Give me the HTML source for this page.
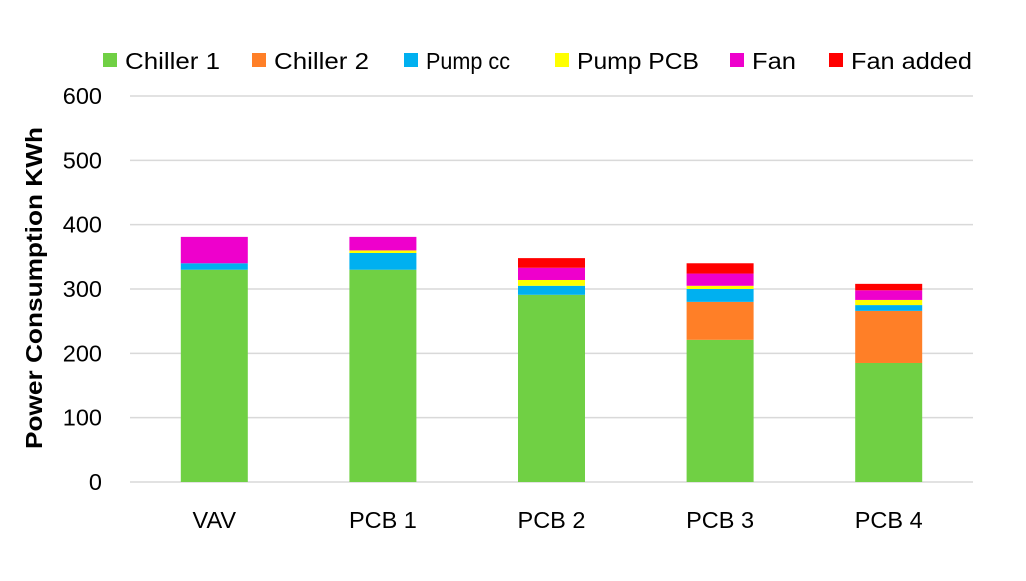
<!DOCTYPE html>
<html><head><meta charset="utf-8"><style>
body{margin:0;background:#fff;font-family:"Liberation Sans",Arial,sans-serif}
</style></head><body>
<svg width="1026" height="576" xmlns="http://www.w3.org/2000/svg" font-family="Liberation Sans, Arial, sans-serif">
<g id="grid"></g><g id="bars"></g><g id="axes"></g><g id="legend"></g>
<text transform="translate(42,288) rotate(-90)" text-anchor="middle" font-size="23" font-weight="bold" fill="#000" textLength="322" lengthAdjust="spacingAndGlyphs">Power Consumption KWh</text>
</svg>
<script>
const categories=["VAV","PCB 1","PCB 2","PCB 3","PCB 4"];
const seriesNames=["Chiller 1","Chiller 2","Pump cc","Pump PCB","Fan","Fan added"];
const chiller1=[330,330,291,221,185];
const chiller2=[0,0,0,59,81];
const pumpCC=[10,26,14,20,9];
const pumpPCB=[0,4,9,5,8];
const fan=[41,21,19,19,15];
const fanAdded=[0,0,15,16,10];
const yTicks=[0,100,200,300,400,500,600];
const colors=["#70d044","#ff7f27","#00b0f0","#ffff00","#ee00cc","#ff0000"];
const series=[chiller1,chiller2,pumpCC,pumpPCB,fan,fanAdded];
const NS="http://www.w3.org/2000/svg";
const L=130,R=973,T=96,B=482,yMax=600;
const y=v=>B-(v/yMax)*(B-T);
const band=(R-L)/categories.length;
const xc=i=>L+band*(i+0.5);
const bw=67;
function mk(t,a,p){const e=document.createElementNS(NS,t);for(const k in a)e.setAttribute(k,a[k]);p.appendChild(e);return e;}
const grid=document.getElementById('grid'),axes=document.getElementById('axes'),bars=document.getElementById('bars'),leg=document.getElementById('legend');
yTicks.forEach(t=>{
 const l=mk('line',{x1:L,x2:R,y1:y(t),y2:y(t),stroke:'#d9d9d9','stroke-width':1.5},grid);
 
 
 const tx=mk('text',{x:102,y:y(t)+8,'text-anchor':'end','font-size':23.5,fill:'#000'},axes);
 tx.textContent=t;
 
 
});
categories.forEach((c,i)=>{
 let acc=0;
 series.forEach((s,j)=>{
  const v=s[i];if(v<=0)return;
  const r=mk('rect',{x:xc(i)-bw/2,y:y(acc+v),width:bw,height:y(acc)-y(acc+v),fill:colors[j]},bars);
  
  
  acc+=v;
 });
 const tx=mk('text',{x:xc(i),y:528,'text-anchor':'middle','font-size':23.5,fill:'#000'},axes);
 tx.textContent=c;
 
 
});
const lx=[103,252,404,555,730,829];
const lw=[95,95,84,122,44,121];
seriesNames.forEach((n,j)=>{
 const r=mk('rect',{x:lx[j],y:53,width:14,height:14,fill:colors[j]},leg);
 
 
 const t=mk('text',{x:lx[j]+22,y:69,'font-size':23.5,fill:'#000',textLength:lw[j],lengthAdjust:'spacingAndGlyphs'},leg);
 t.textContent=n;
 
 
});
</script>
</body></html>
